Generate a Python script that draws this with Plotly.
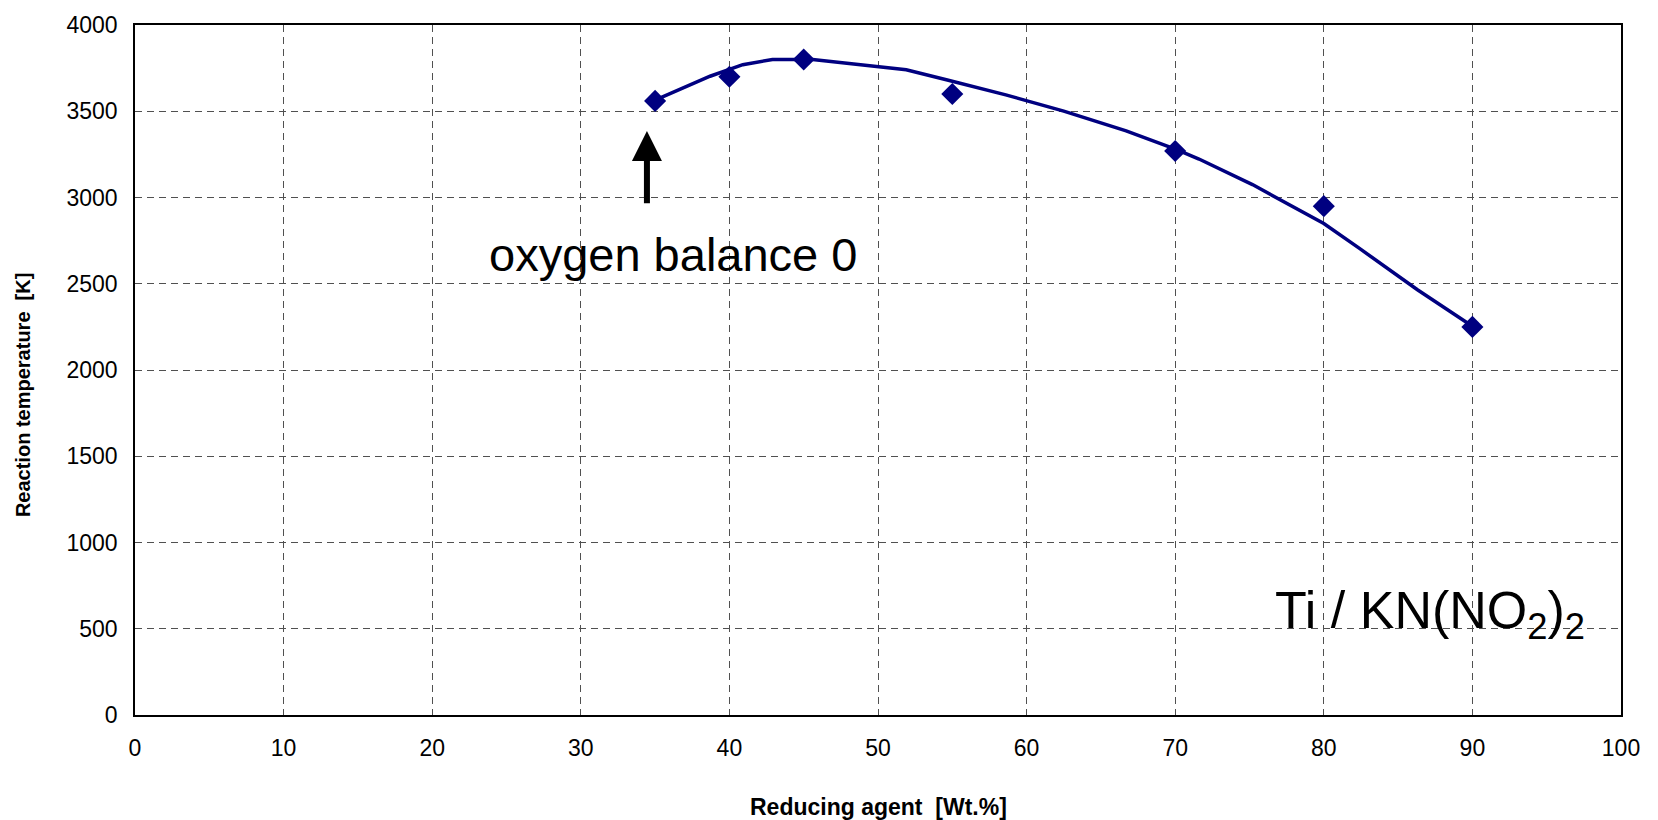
import plotly.graph_objects as go

# Measured data points
x_pts = [35, 40, 45, 55, 70, 80, 90]
y_pts = [3560, 3700, 3800, 3600, 3270, 2950, 2250]

# Fitted (smoothed) curve vertices
x_fit = [35, 38.7, 40.9, 42.9, 45.6, 51.9, 54.6, 58.6, 62.5, 66.7, 70.1, 71.6, 75.2, 80.0, 82.4, 86.3, 90]
y_fit = [3565, 3703, 3770, 3800, 3800, 3741, 3683, 3595, 3501, 3386, 3278, 3223, 3075, 2849, 2705, 2465, 2254]

x_ticks = [0, 10, 20, 30, 40, 50, 60, 70, 80, 90, 100]
y_ticks = [0, 500, 1000, 1500, 2000, 2500, 3000, 3500, 4000]

FONT = "Liberation Sans, Arial, sans-serif"
NAVY = "#000080"

fig = go.Figure()
fig.add_trace(go.Scatter(x=x_fit, y=y_fit, mode="lines",
                         line=dict(color=NAVY, width=3.5), hoverinfo="skip", showlegend=False))
fig.add_trace(go.Scatter(x=x_pts, y=y_pts, mode="markers",
                         marker=dict(symbol="diamond", size=17, color=NAVY), showlegend=False))

axis_common = dict(
    showline=True, linecolor="black", linewidth=1.5, mirror=True,
    showgrid=True, gridcolor="#505050", gridwidth=1, griddash="7px,5px",
    zeroline=False, ticks="",
    tickfont=dict(family=FONT, size=23, color="black"),
)

fig.update_xaxes(range=[0, 100], tickvals=x_ticks, ticklabelstandoff=12, **axis_common)
fig.update_yaxes(range=[0, 4000], tickvals=y_ticks, ticklabelstandoff=11, **axis_common)

fig.update_layout(
    width=1658, height=820,
    margin=dict(l=135, r=37, t=20, b=105),
    paper_bgcolor="white", plot_bgcolor="white",
    font=dict(family=FONT, color="black"),
    annotations=[
        dict(xref="paper", yref="paper", x=0.5, y=-0.1338, xanchor="center", yanchor="middle",
             text="<b>Reducing agent  [Wt.%]</b>", showarrow=False,
             font=dict(family=FONT, size=23, color="black")),
        dict(xref="paper", yref="paper", x=-0.0754, y=0.465, xanchor="center", yanchor="middle",
             text="<b>Reaction temperature  [K]</b>", textangle=-90, showarrow=False,
             font=dict(family=FONT, size=20, color="black")),
        dict(x=34.45, y=3386, ax=34.45, ay=2958, xref="x", yref="y", axref="x", ayref="y",
             text="", showarrow=True, arrowhead=2, arrowwidth=6, arrowsize=1, arrowcolor="black",
             standoff=0),
        dict(x=36.2, y=2670, xref="x", yref="y", xanchor="center", yanchor="middle",
             text="oxygen balance 0", showarrow=False,
             font=dict(family=FONT, size=47, color="black")),
        dict(x=97.7, y=585, xref="x", yref="y", xanchor="right", yanchor="middle",
             text="Ti / KN(NO<sub>2</sub>)<sub>2</sub>", showarrow=False,
             font=dict(family=FONT, size=52, color="black")),
    ],
)

fig.write_html("out.html")
